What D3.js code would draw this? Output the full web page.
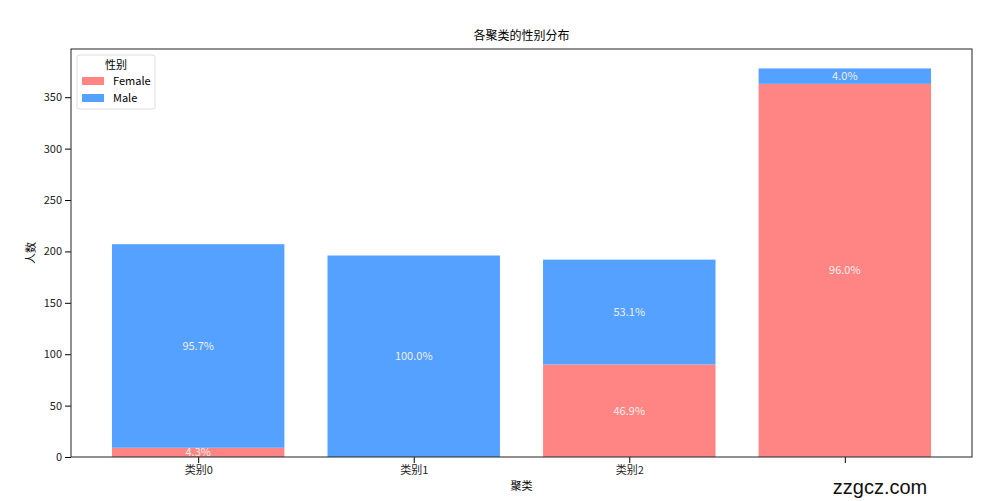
<!DOCTYPE html>
<html><head><meta charset="utf-8">
<script src="https://cdn.jsdelivr.net/npm/d3@7"></script>
<style>body{margin:0;background:#fff}text{font-family:"Noto Sans CJK SC","DejaVu Sans",sans-serif}</style>
</head><body><div id="chart"></div>
<script>
var categories = ["类别0", "类别1", "类别2", "类别3"];
var female = [9, 0, 90, 363];
var male = [198, 196, 102, 15];
var yTicks = [0, 50, 100, 150, 200, 250, 300, 350];

var margin = { top: 49, right: 13, bottom: 44, left: 71 },
  width = 985 - margin.left - margin.right,
  height = 501 - margin.top - margin.bottom;

var svg = d3.select("#chart").append("svg")
  .attr("width", 985).attr("height", 501)
  .append("g")
  .attr("transform", "translate(" + margin.left + "," + margin.top + ")");

var x = d3.scaleLinear().domain([-0.59, 3.59]).range([0, width]);
var y = d3.scaleLinear().domain([0, 396.9]).range([height, 0]);
var bw = x(0.4) - x(-0.4);

var data = categories.map(function (c, i) { return { c: c, i: i, f: female[i], m: male[i] }; });

// female bars
svg.selectAll(".f").data(data).enter().append("rect")
  .attr("x", function (d) { return x(d.i) - bw / 2; })
  .attr("y", function (d) { return y(d.f); })
  .attr("width", bw)
  .attr("height", function (d) { return height - y(d.f); })
  .attr("fill", "#ff8585");
// male bars
svg.selectAll(".m").data(data).enter().append("rect")
  .attr("x", function (d) { return x(d.i) - bw / 2; })
  .attr("y", function (d) { return y(d.f + d.m); })
  .attr("width", bw)
  .attr("height", function (d) { return y(d.f) - y(d.f + d.m); })
  .attr("fill", "#54a1ff");

// percentage labels
data.forEach(function (d) {
  var t = d.f + d.m;
  [[d.f, 0], [d.m, d.f]].forEach(function (p) {
    if (p[0] <= 0) return;
    svg.append("text")
      .attr("x", x(d.i)).attr("y", y(p[1] + p[0] / 2)).attr("dy", "0.35em")
      .attr("text-anchor", "middle").attr("fill", "#eee").style("font-size", "11px")
      .text((p[0] / t * 100).toFixed(1) + "%");
  });
});

// axes
var xa = svg.append("g").attr("transform", "translate(0," + height + ")")
  .call(d3.axisBottom(x).tickValues([0, 1, 2, 3]).tickFormat(function (i) { return categories[i]; }).tickSizeOuter(0));
var ya = svg.append("g").call(d3.axisLeft(y).tickValues(yTicks).tickSizeOuter(0));
[xa, ya].forEach(function (a) {
  a.selectAll("text").style("font-size", "11px").attr("fill", "#222");
  a.select(".domain").remove();
});
svg.append("rect").attr("width", width).attr("height", height)
  .attr("fill", "none").attr("stroke", "#222").attr("stroke-width", 1);

svg.append("text").attr("x", width / 2).attr("y", -9).attr("text-anchor", "middle")
  .style("font-size", "12px").text("各聚类的性别分布");
svg.append("text").attr("x", width / 2).attr("y", height + 33).attr("text-anchor", "middle")
  .style("font-size", "11px").text("聚类");
svg.append("text").attr("transform", "translate(-36," + height / 2 + ") rotate(-90)")
  .attr("text-anchor", "middle").style("font-size", "11px").text("人数");

// legend
var lg = svg.append("g").attr("transform", "translate(6,6)");
lg.append("rect").attr("width", 78).attr("height", 54).attr("rx", 2)
  .attr("fill", "#fff").attr("stroke", "#ddd");
lg.append("text").attr("x", 39).attr("y", 14).attr("text-anchor", "middle").style("font-size", "11px").text("性别");
[["Female", "#ff8585"], ["Male", "#54a1ff"]].forEach(function (s, i) {
  lg.append("rect").attr("x", 5).attr("y", 22 + i * 17).attr("width", 22).attr("height", 8).attr("fill", s[1]);
  lg.append("text").attr("x", 36).attr("y", 30 + i * 17).style("font-size", "11px").text(s[0]);
});

// watermark
var wm = d3.select("svg");
wm.append("rect").attr("x", 815).attr("y", 464).attr("width", 130).attr("height", 37).attr("fill", "#fff");
wm.append("text").attr("x", 880).attr("y", 494).attr("text-anchor", "middle")
  .style("font-family", "'Liberation Sans', Arial").style("font-size", "20px").attr("fill", "#111").text("zzgcz.com");
</script></body></html>
